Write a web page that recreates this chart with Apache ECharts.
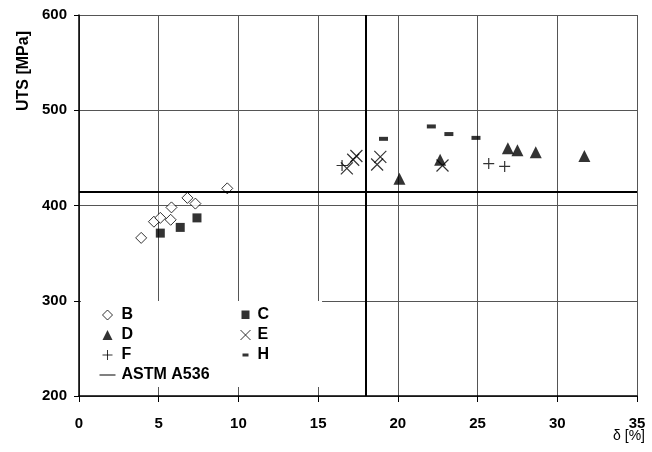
<!DOCTYPE html>
<html>
<head>
<meta charset="utf-8">
<script src="https://cdn.jsdelivr.net/npm/echarts@6/dist/echarts.min.js"></script>
<style>
  html, body { margin: 0; padding: 0; background: #fff; }
  #chart { width: 652px; height: 452px; }
</style>
</head>
<body>
<div id="chart"></div>
<script>
// elongation (%) and UTS (MPa) per material
const bX = [3.9, 4.7, 5.1, 5.75, 5.8, 6.8, 7.3, 9.3];
const bY = [366, 383, 387, 385, 398, 408, 402, 418];
const cX = [5.1, 6.35, 7.4];
const cY = [371, 377, 387];
const dX = [20.1, 22.65, 26.9, 27.5, 28.65, 31.7];
const dY = [428, 448, 460, 458, 456, 452];
const eX = [16.8, 17.2, 17.4, 18.7, 18.9, 22.8];
const eY = [439, 448, 452, 443, 451, 442];
const fX = [16.5, 25.7, 26.7];
const fY = [442, 444, 441];
const hX = [19.1, 22.1, 23.2, 24.9];
const hY = [470, 483, 475, 471];
// ASTM A536 minimum elongation / UTS
const astmElong = 18;
const astmUts = 414;

const xTicks = [0, 35, 5];
const yTicks = [200, 600, 100];

const FONT = '"Liberation Sans", Arial, sans-serif';

function pairs(xs, ys) {
  return xs.map((x, i) => [x, ys[i]]);
}

let chart = echarts.init(document.getElementById('chart'));

let legendText = {
  color: '#000',
  fontSize: 16,
  fontWeight: 'bold',
  fontFamily: FONT,
  lineHeight: 16
};

// legend icons padded to the full item box so they keep their size
const ICON_B = 'path://M0,0M18,11M9,0.5L14,5.5L9,10.5L4,5.5Z';
const ICON_D = 'path://M0,0M18,11M9,0.5L14,10.5H4Z';
const ICON_F = 'path://M0,0M18,11M9,0.5V10.5M4,5.5H14';
const ICON_ASTM = 'path://M0,0M18,11M1,5H17V6H1Z';
const ICON_C = 'path://M0,0M14,11M3,1H11V9.5H3Z';
const ICON_E = 'path://M0,0M14,11M2,0.5L12,10.5M12,0.5L2,10.5';
const ICON_H = 'path://M0,0M14,11M4,4H10V7H4Z';

let option = {
  backgroundColor: '#fff',
  animation: false,
  grid: {
    left: 79,
    right: 15,
    top: 15,
    bottom: 56
  },
  legend: [
    {
      orient: 'vertical',
      left: 81,
      top: 301,
      padding: [6, 29, 4, 15],
      backgroundColor: '#fff',
      itemWidth: 18,
      itemHeight: 11,
      itemGap: 4,
      selectedMode: false,
      itemStyle: { borderWidth: 1 },
      textStyle: legendText,
      data: [
        { name: 'B', icon: ICON_B },
        { name: 'D', icon: ICON_D },
        { name: 'F', icon: ICON_F },
        { name: 'ASTM A536', icon: ICON_ASTM }
      ]
    },
    {
      orient: 'vertical',
      left: 232,
      top: 301,
      padding: [6, 53, 24, 4],
      backgroundColor: '#fff',
      itemWidth: 14,
      itemHeight: 11,
      itemGap: 4,
      selectedMode: false,
      itemStyle: { borderWidth: 1 },
      textStyle: legendText,
      data: [
        { name: 'C', icon: ICON_C },
        { name: 'E', icon: ICON_E },
        { name: 'H', icon: ICON_H }
      ]
    }
  ],
  xAxis: {
    type: 'value',
    min: xTicks[0],
    max: xTicks[1],
    interval: xTicks[2],
    axisLine: { lineStyle: { color: '#000', width: 1.5 } },
    axisTick: { show: true, length: 6, lineStyle: { color: '#000' } },
    axisLabel: {
      color: '#000',
      fontSize: 15,
      fontWeight: 'bold',
      fontFamily: FONT,
      margin: 20
    },
    splitLine: { show: true, lineStyle: { color: '#555', width: 1 } }
  },
  yAxis: {
    type: 'value',
    min: yTicks[0],
    max: yTicks[1],
    interval: yTicks[2],
    axisLine: { show: true, lineStyle: { color: '#000', width: 1.5 } },
    axisTick: { show: true, length: 5, lineStyle: { color: '#000' } },
    axisLabel: {
      color: '#000',
      fontSize: 15,
      fontWeight: 'bold',
      fontFamily: FONT,
      margin: 12
    },
    splitLine: { show: true, lineStyle: { color: '#555', width: 1 } }
  },
  graphic: [
    {
      type: 'text',
      x: 24,
      y: 111,
      rotation: Math.PI / 2,
      style: {
        text: 'UTS [MPa]',
        fill: '#000',
        fontSize: 16,
        fontWeight: 'bold',
        fontFamily: FONT,
        align: 'left',
        verticalAlign: 'middle'
      }
    },
    {
      type: 'text',
      x: 645,
      y: 436,
      style: {
        text: 'δ [%]',
        fill: '#000',
        fontSize: 14,
        fontFamily: FONT,
        align: 'right',
        verticalAlign: 'middle'
      }
    }
  ],
  series: [
    {
      name: 'B',
      type: 'scatter',
      symbol: 'diamond',
      symbolSize: 11,
      itemStyle: { color: '#fff', borderColor: '#000', borderWidth: 1 },
      data: pairs(bX, bY)
    },
    {
      name: 'C',
      type: 'scatter',
      symbol: 'rect',
      symbolSize: 9,
      itemStyle: { color: '#000' },
      data: pairs(cX, cY)
    },
    {
      name: 'D',
      type: 'scatter',
      symbol: 'triangle',
      symbolSize: 12,
      itemStyle: { color: '#000' },
      data: pairs(dX, dY)
    },
    {
      name: 'E',
      type: 'scatter',
      symbol: 'path://M0,0L10,10M10,0L0,10',
      symbolSize: 12,
      itemStyle: { color: 'none', borderColor: '#000', borderWidth: 1.2 },
      data: pairs(eX, eY)
    },
    {
      name: 'F',
      type: 'scatter',
      symbol: 'path://M5,0L5,10M0,5L10,5',
      symbolSize: 11,
      itemStyle: { color: 'none', borderColor: '#000', borderWidth: 1.2 },
      data: pairs(fX, fY)
    },
    {
      name: 'H',
      type: 'scatter',
      symbol: 'rect',
      symbolSize: [9, 4],
      itemStyle: { color: '#000' },
      data: pairs(hX, hY)
    },
    {
      name: 'ASTM A536',
      type: 'line',
      symbol: 'none',
      lineStyle: { color: '#000', width: 1 },
      itemStyle: { color: '#000' },
      data: [],
      markLine: {
        silent: true,
        symbol: 'none',
        label: { show: false },
        lineStyle: { color: '#000', width: 2, type: 'solid' },
        data: [
          { xAxis: astmElong },
          { yAxis: astmUts }
        ]
      }
    }
  ]
};

chart.setOption(option);
</script>
</body>
</html>
